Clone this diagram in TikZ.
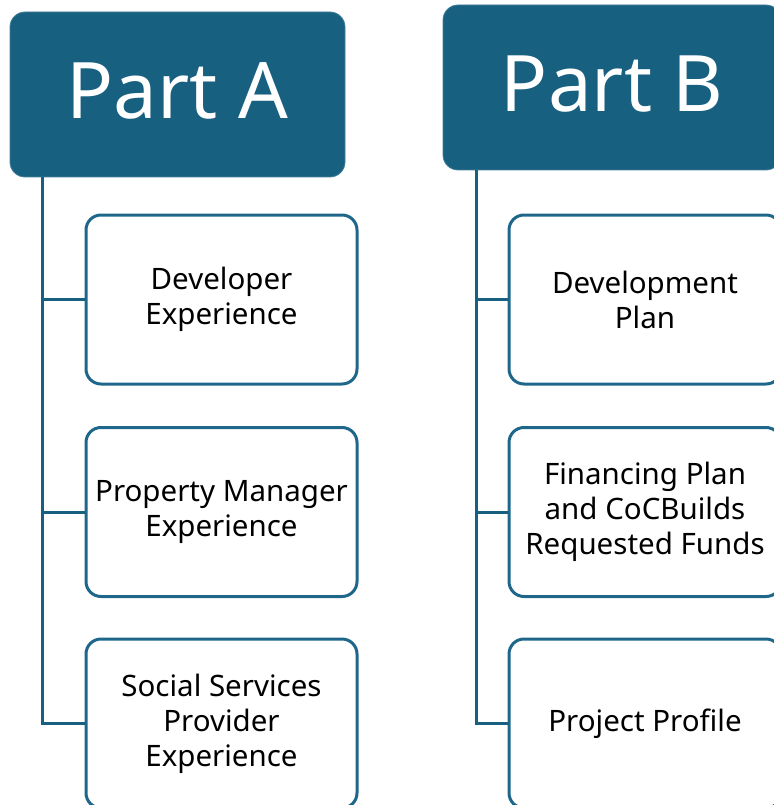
\documentclass[tikz,border=0pt]{standalone}
\usepackage{fontspec}
\setmainfont{Noto Sans}
\definecolor{teal}{RGB}{23,96,128}
\definecolor{edge}{RGB}{30,103,139}
\tikzset{
  x=1pt, y=-1pt,
  head/.style={draw=teal!80!white, line width=0.8pt, fill=teal, rounded corners=15pt, text=white,
    minimum width=335pt, minimum height=165pt, font=\fontsize{78}{90}\selectfont, inner sep=0pt, anchor=center},
  item/.style={draw=edge, line width=3pt, fill=white, rounded corners=15pt, text=black, align=center,
    minimum width=271pt, minimum height=169pt, font=\fontsize{29.5}{35}\selectfont, inner sep=0pt, anchor=center},
  conn/.style={draw=teal, line width=3pt}
}
\begin{document}
\begin{tikzpicture}
\useasboundingbox (0,0) rectangle (773,805);
\node[head] (pa) at (177.5,94.5) {\raisebox{8pt}{Part A}};
\node[head, minimum width=338pt] (pb) at (612,87.5) {\raisebox{8pt}{Part B}};
\coordinate (ta) at (42,177);
\coordinate (tb) at (476,170);
\node[item] (a1) at (221.5,299.5) {Developer\\Experience};
\node[item] (a2) at (221.5,512) {Property Manager\\Experience};
\node[item] (a3) at (221.5,723.5) {Social Services\\Provider\\Experience};
\node[item, minimum width=272pt] (b1) at (645,299.5) {Development\\Plan};
\node[item, minimum width=272pt] (b2) at (645,512) {Financing Plan\\and CoCBuilds\\Requested Funds};
\node[item, minimum width=272pt] (b3) at (645,723.5) {Project Profile};
\draw[conn] (ta) |- (a3.west);
\draw[conn] (ta |- a1.west) -- (a1.west);
\draw[conn] (ta |- a2.west) -- (a2.west);
\draw[conn] (tb) |- (b3.west);
\draw[conn] (tb |- b1.west) -- (b1.west);
\draw[conn] (tb |- b2.west) -- (b2.west);
\end{tikzpicture}
\end{document}
